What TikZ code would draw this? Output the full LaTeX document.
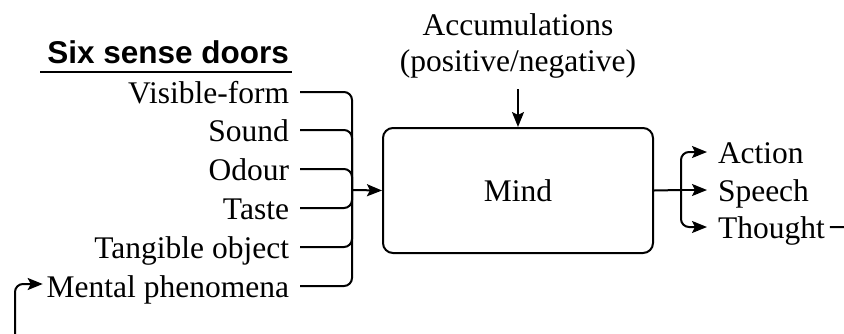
\documentclass[tikz,border=0pt]{standalone}
\usepackage{fontspec}
\setmainfont{Liberation Serif}
\newfontfamily\titlefont{Liberation Sans}
\usetikzlibrary{arrows.meta}
\begin{document}
\begin{tikzpicture}[x=1pt,y=-1pt,
  line width=2pt,
  every node/.style={font=\fontsize{31.5}{36}\selectfont},
  lbl/.style={inner sep=0pt,text height=22pt,text depth=0pt},
  conn/.style={rounded corners=8pt},
  arr/.style={-{Stealth[length=15pt,width=12pt,inset=3pt]}},
  mindbox/.style={draw,rounded corners=10pt,minimum width=270pt,minimum height=125pt,inner sep=0pt}]
\useasboundingbox (0,0) rectangle (844,333);
% title
\node[inner sep=0pt,anchor=base east,font=\titlefont\bfseries\fontsize{31.5}{36}\selectfont] (title) at (290,63) {Six sense doors};
\draw[line width=2pt] ([shift={(-6,0)}]title.west |- 0,72) coordinate (ul1) -- (292,72) coordinate (ul2);
% sense doors
\node[lbl,anchor=east] (vf) at (290,92) {Visible-form};
\node[lbl,anchor=east] (so) at (290,130) {Sound};
\node[lbl,anchor=east] (od) at (290,169) {Odour};
\node[lbl,anchor=east] (ta) at (290,208) {Taste};
\node[lbl,anchor=east] (tg) at (290,247) {Tangible object};
\node[lbl,anchor=east] (mp) at (290,286) {Mental phenomena};
\coordinate (jn) at (352,190);
\foreach \n in {vf,so,od,ta,tg,mp}
  \draw[conn] ([xshift=10pt]\n.east) -| (jn);
% mind
\node[mindbox] (mind) at (518,190.5) {Mind};
\draw[arr] (jn) -- (mind.west);
% accumulations
\node[align=center,inner sep=0pt,anchor=base] (acc) at (518,71) {Accumulations\\(positive/negative)};
\draw[arr] (518,89) coordinate (accin) -- (mind.north);
% outputs
\node[lbl,anchor=west] (ac) at (717,152) {Action};
\node[lbl,anchor=west] (sp) at (717,190) {Speech};
\node[lbl,anchor=west] (th) at (717,227) {Thought};
\coordinate (split) at (681,190);
\draw (mind.east) -- (split);
\draw[conn,arr] (split) |- ([xshift=-10pt]ac.west);
\draw[arr] (split) -- ([xshift=-10pt]sp.west);
\draw[conn,arr] (split) |- ([xshift=-10pt]th.west);
% feedback loop (cropped by the frame)
\coordinate (lr) at (880,350);
\coordinate (ll) at (15,350);
\draw[conn,arr] ([xshift=4pt]th.east) -| (lr) -- (ll) |- ([xshift=-3pt,yshift=2pt]mp.west);
\end{tikzpicture}
\end{document}
